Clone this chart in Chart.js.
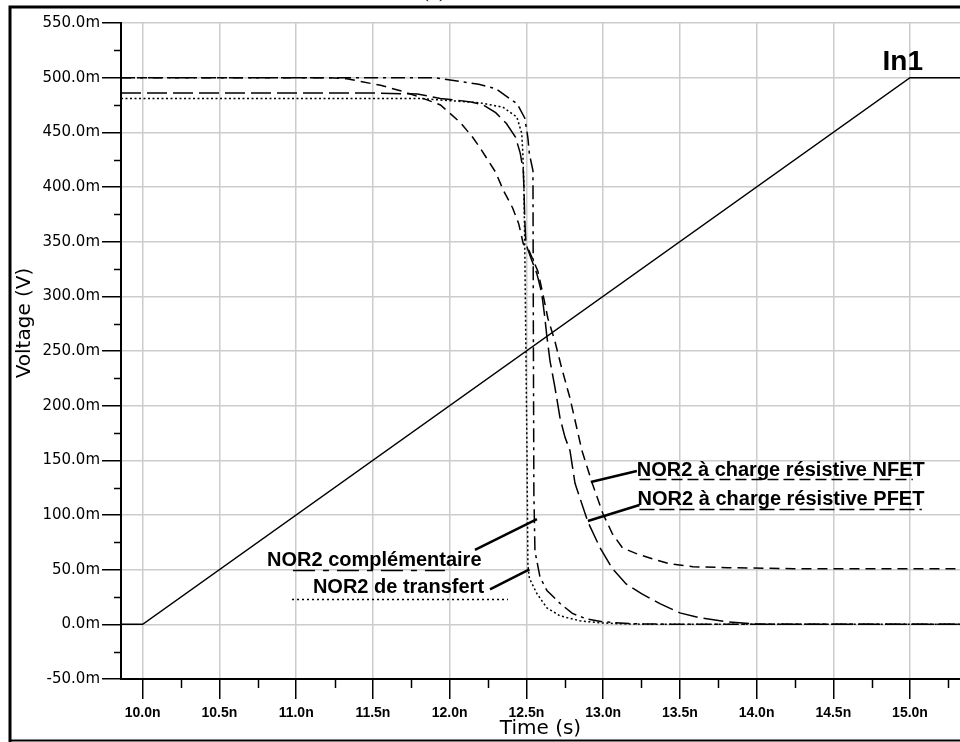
<!DOCTYPE html>
<html><head><meta charset="utf-8">
<script src="https://cdn.jsdelivr.net/npm/chart.js@4/dist/chart.umd.min.js"></script>
<style>html,body{margin:0;padding:0;background:#fff;overflow:hidden}</style>
</head><body>
<canvas id="c" width="960" height="742"></canvas>
<script>
// ---- axis ticks ----
const xTicks = [10.0, 10.5, 11.0, 11.5, 12.0, 12.5, 13.0, 13.5, 14.0, 14.5, 15.0];
const xTickLabels = ['10.0n','10.5n','11.0n','11.5n','12.0n','12.5n','13.0n','13.5n','14.0n','14.5n','15.0n'];
const xMinorTicks = [10.25, 10.75, 11.25, 11.75, 12.25, 12.75, 13.25, 13.75, 14.25, 14.75, 15.25];
const yTicks = [-50, 0, 50, 100, 150, 200, 250, 300, 350, 400, 450, 500, 550];
const yTickLabels = ['-50.0m','0.0m','50.0m','100.0m','150.0m','200.0m','250.0m','300.0m','350.0m','400.0m','450.0m','500.0m','550.0m'];
const yMinorTicks = [-25, 25, 75, 125, 175, 225, 275, 325, 375, 425, 475, 525];
const X_MIN = 9.8586, X_MAX = 15.3257, Y_MIN = -50, Y_MAX = 550;

// ---- series (time in ns, voltage in mV) ----
const in1Time = [9.8586, 10.0, 15.0, 15.3257];
const in1Volt = [0, 0, 500, 500];

const compTime = [9.8586, 11.9, 12.19, 12.30, 12.44, 12.49, 12.51, 12.52, 12.543, 12.546, 12.549, 12.556, 12.589, 12.634, 12.72, 12.80, 12.89, 13.0, 13.19, 13.5, 15.3257];
const compVolt = [500, 500, 494, 490, 476, 463, 445, 430, 415, 250, 120, 67, 43, 31, 19, 10, 5, 2.3, 0.5, 0, 0];

const trTime = [9.8586, 11.8, 12.197, 12.347, 12.438, 12.47, 12.477, 12.484, 12.49, 12.497, 12.504, 12.51, 12.52, 12.569, 12.634, 12.719, 12.849, 12.979, 13.11, 13.3, 15.3257];
const trVolt = [481, 481, 477, 473, 464, 449, 431, 400, 342, 250, 159, 54, 42, 28, 15, 7.8, 3.2, 1.4, 0.5, 0, 0];

const pfTime = [9.8586, 11.5, 11.79, 11.94, 12.07, 12.15, 12.22, 12.30, 12.37, 12.43, 12.46, 12.48, 12.484, 12.49, 12.497, 12.535, 12.568, 12.60, 12.62, 12.634, 12.654, 12.686, 12.719, 12.752, 12.784, 12.817, 12.90, 12.98, 13.06, 13.15, 13.25, 13.37, 13.50, 13.63, 13.81, 13.97, 14.07, 15.3257];
const pfVolt = [486, 486, 485, 481, 479, 477.5, 475, 468, 458, 445.5, 431, 415, 400, 369, 348, 333, 321, 303, 281, 263, 241, 217, 189, 171, 159, 129, 94, 70, 51, 37, 28, 19, 10.5, 6, 2.3, 0.5, 0, 0];

const nfTime = [9.8586, 11.22, 11.33, 11.55, 11.68, 11.81, 11.94, 12.07, 12.15, 12.20, 12.25, 12.30, 12.35, 12.41, 12.45, 12.48, 12.517, 12.575, 12.608, 12.64, 12.686, 12.73, 12.784, 12.836, 12.862, 12.927, 12.998, 13.06, 13.126, 13.217, 13.32, 13.43, 13.586, 13.81, 14.24, 15.3257];
const nfVolt = [500, 500, 499, 493, 488, 482, 475, 459, 445.5, 435.5, 424.5, 413.5, 397, 381, 366.5, 348, 342, 323, 302, 280, 259, 234.5, 207, 175, 159, 130, 101.5, 83, 70, 64.7, 60, 55.5, 52.7, 51.8, 50.9, 50.9];

// ---- annotation labels (data coordinates: ns, mV) ----
const annotations = [
  {text: 'NOR2 à charge résistive NFET', tx: 13.22, ty: 135.6, from: [13.22, 140.2], to: [12.92, 130.2], ul: [13.237, 15.018, 132.9], dash: [11, 5]},
  {text: 'NOR2 à charge résistive PFET', tx: 13.225, ty: 109.1, from: [13.237, 109.1], to: [12.901, 94.5], ul: [13.237, 15.077, 105.5], dash: [15, 5]},
  {text: 'NOR2 complémentaire', tx: 10.81, ty: 53.3, from: [12.165, 68], to: [12.569, 96.3], ul: [10.979, 11.969, 49.7], dash: [22, 8, 6, 8]},
  {text: 'NOR2 de transfert', tx: 11.109, ty: 28.6, from: [12.263, 32.0], to: [12.52, 50.3], ul: [10.973, 12.38, 23.1], dash: [2, 3]}
];
const in1Label = {text: 'In1', x: 14.953, y: 507};

function pts(t, v) { return t.map((x, i) => ({x: x, y: v[i]})); }

const decor = {
  id: 'decor',
  beforeDraw(chart) {
    const c = chart.ctx;
    c.save(); c.fillStyle = '#fff'; c.fillRect(0, 0, chart.width, chart.height); c.restore();
  },
  afterDraw(chart) {
    const c = chart.ctx, xs = chart.scales.x, ys = chart.scales.y, a = chart.chartArea;
    c.save();
    c.strokeStyle = '#000'; c.lineWidth = 1.5;
    // minor ticks
    c.beginPath();
    yMinorTicks.forEach(v => { const p = Math.round(ys.getPixelForValue(v)) + 0.5; c.moveTo(a.left - 7, p); c.lineTo(a.left, p); });
    xMinorTicks.forEach(v => { const p = Math.round(xs.getPixelForValue(v)) + 0.5; c.moveTo(p, a.bottom); c.lineTo(p, a.bottom + 9); });
    c.stroke();
    // frame
    c.lineWidth = 3; c.beginPath(); c.moveTo(10, 745); c.lineTo(10, 7); c.lineTo(965, 7); c.stroke();
    c.lineWidth = 2; c.beginPath(); c.moveTo(10, 740.5); c.lineTo(965, 740.5); c.stroke();
    // y title
    c.fillStyle = '#000';
    c.font = '20px "DejaVu Sans"'; c.textAlign = 'center'; c.textBaseline = 'middle';
    c.translate(25, 323); c.rotate(-Math.PI / 2); c.fillText('Voltage (V)', 0, 0);
    c.setTransform(1, 0, 0, 1, 0, 0);
    // (b) fragment
    c.font = '20px "Liberation Serif"'; c.textBaseline = 'alphabetic'; c.fillText('(b)', 434, -3);
    // annotations
    c.textAlign = 'left'; c.textBaseline = 'alphabetic';
    c.font = 'bold 20px "Liberation Sans"';
    annotations.forEach(an => {
      c.fillText(an.text, xs.getPixelForValue(an.tx), ys.getPixelForValue(an.ty));
      c.setLineDash([]); c.lineWidth = 2.5; c.beginPath();
      c.moveTo(xs.getPixelForValue(an.from[0]), ys.getPixelForValue(an.from[1]));
      c.lineTo(xs.getPixelForValue(an.to[0]), ys.getPixelForValue(an.to[1]));
      c.stroke();
      c.setLineDash(an.dash); c.lineWidth = 1.5; c.beginPath();
      const uy = Math.round(ys.getPixelForValue(an.ul[2])) + 0.5;
      c.moveTo(xs.getPixelForValue(an.ul[0]), uy); c.lineTo(xs.getPixelForValue(an.ul[1]), uy); c.stroke();
    });
    c.setLineDash([]);
    c.font = 'bold 28px "Liberation Sans"'; c.textAlign = 'center';
    c.fillText(in1Label.text, xs.getPixelForValue(in1Label.x), ys.getPixelForValue(in1Label.y));
    c.restore();
  }
};

const ds = (label, t, v, dash) => ({label, data: pts(t, v), borderColor: '#000', borderWidth: 1.5, borderDash: dash, pointRadius: 0, tension: 0, fill: false});

new Chart(document.getElementById('c'), {
  type: 'line',
  data: {datasets: [
    ds('In1', in1Time, in1Volt, []),
    ds('NOR2 complémentaire', compTime, compVolt, [14, 5, 3, 5]),
    ds('NOR2 de transfert', trTime, trVolt, [2, 2.5]),
    ds('NOR2 à charge résistive PFET', pfTime, pfVolt, [20, 6]),
    ds('NOR2 à charge résistive NFET', nfTime, nfVolt, [10, 6])
  ]},
  options: {
    responsive: false, animation: false, devicePixelRatio: 1,
    layout: {padding: {top: 23, left: 0, right: 0, bottom: 0}},
    plugins: {legend: {display: false}, tooltip: {enabled: false}},
    scales: {
      x: {
        type: 'linear', min: X_MIN, max: X_MAX,
        afterBuildTicks: s => { s.ticks = xTicks.map(v => ({value: v})); },
        afterFit: s => { s.height = 63; },
        ticks: {callback: (v, i) => xTickLabels[i], font: {family: 'Liberation Sans', size: 14, weight: 'bold'}, color: '#000', padding: 6, maxRotation: 0, autoSkip: false},
        grid: {color: '#cccccc', lineWidth: 1.5, tickLength: 20, tickColor: '#000', tickWidth: 1.5, drawTicks: true},
        border: {display: true, color: '#000', width: 2},
        title: {display: true, text: 'Time (s)', font: {family: 'DejaVu Sans', size: 20}, color: '#000', padding: {top: 0, bottom: 1}}
      },
      y: {
        type: 'linear', min: Y_MIN, max: Y_MAX,
        afterBuildTicks: s => { s.ticks = yTicks.map(v => ({value: v})); },
        afterFit: s => { s.width = 121; },
        ticks: {callback: (v, i) => yTickLabels[i], font: {family: 'DejaVu Sans', size: 15}, color: '#000', padding: 2, autoSkip: false},
        grid: {color: '#cccccc', lineWidth: 1.5, tickLength: 19, tickColor: '#000', tickWidth: 1.5, drawTicks: true},
        border: {display: true, color: '#000', width: 2}
      }
    }
  },
  plugins: [decor]
});
</script>
</body></html>
